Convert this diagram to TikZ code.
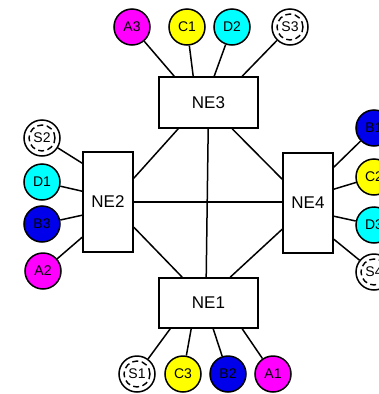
\documentclass[tikz,border=0pt]{standalone}
\usepackage{fontspec}
\setmainfont{Liberation Sans}
\usetikzlibrary{calc}

\definecolor{sitemagenta}{RGB}{255,0,255}
\definecolor{siteyellow}{RGB}{255,255,0}
\definecolor{sitecyan}{RGB}{0,255,255}
\definecolor{siteblue}{RGB}{0,0,235}

\tikzset{
  ne/.style={draw, fill=white, line width=1.6pt, inner sep=0pt, font=\fontsize{17}{17}\selectfont},
  site/.style={circle, draw, line width=1.5pt, minimum size=36pt, inner sep=0pt, font=\fontsize{14}{14}\selectfont},
  spare/.style={site, fill=white, path picture={
      \draw[dashed, dash pattern=on 6pt off 3.5pt, line width=1.4pt]
        (path picture bounding box.center) circle (13pt);}},
  link/.style={line width=1.5pt}
}

\begin{document}
\begin{tikzpicture}[x=1pt, y=-1pt]
  \clip (0,0) rectangle (379,394);

  % network elements
  \node[ne, minimum width=99pt, minimum height=51pt] (ne3) at (208.5,102.5) {NE3};
  \node[ne, minimum width=50pt, minimum height=100pt] (ne2) at (108,202) {NE2};
  \node[ne, minimum width=50pt, minimum height=100pt] (ne4) at (308,203) {NE4};
  \node[ne, minimum width=99pt, minimum height=50pt] (ne1) at (208.5,303) {NE1};

  % top
  \node[site, fill=sitemagenta] (a3) at (132,27) {A3};
  \node[site, fill=siteyellow]  (c1) at (187,27) {C1};
  \node[site, fill=sitecyan]    (d2) at (232,27) {D2};
  \node[spare]                  (s3) at (290,27) {S3};
  % left
  \node[spare]                  (s2) at (42,138) {S2};
  \node[site, fill=sitecyan]    (d1) at (42,182) {D1};
  \node[site, fill=siteblue]    (b3) at (42,224) {B3};
  \node[site, fill=sitemagenta] (a2) at (43,271) {A2};
  % right
  \node[site, fill=siteblue]    (b1) at (374,128) {B1};
  \node[site, fill=siteyellow]  (c2) at (374,177) {C2};
  \node[site, fill=sitecyan]    (d3) at (374,225) {D3};
  \node[spare]                  (s4) at (374,272) {S4};
  % bottom
  \node[spare]                  (s1) at (137,374) {S1};
  \node[site, fill=siteyellow]  (c3) at (183,374) {C3};
  \node[site, fill=siteblue]    (b2) at (228,374) {B2};
  \node[site, fill=sitemagenta] (a1) at (273,374) {A1};

  % access links
  \foreach \s/\d in {a3/16, c1/35, d2/56, s3/84}
    \draw[link] (\s) -- ($(ne3.north west)+(\d,0)$);
  \foreach \s/\d in {s2/12, d1/40, b3/64, a2/86}
    \draw[link] (\s) -- ($(ne2.north west)+(0,\d)$);
  \foreach \s/\d in {b1/15, c2/37, d3/64, s4/87}
    \draw[link] (\s) -- ($(ne4.north east)+(0,\d)$);
  \foreach \s/\d in {s1/12, c3/33, b2/55, a1/84}
    \draw[link] (\s) -- ($(ne1.south west)+(\d,0)$);

  % mesh between the NEs
  \draw[link] ($(ne3.south west)+(20,0)$) -- ($(ne2.north east)+(0,27)$);
  \draw[link] ($(ne3.south west)+(50,0)$) -- ($(ne1.north west)+(48,0)$);
  \draw[link] ($(ne3.south west)+(74,0)$) -- ($(ne4.north west)+(0,27)$);
  \draw[link] ($(ne2.north east)+(0,51)$) -- ($(ne4.north west)+(0,50)$);
  \draw[link] ($(ne2.north east)+(0,76)$) -- ($(ne1.north west)+(24,0)$);
  \draw[link] ($(ne4.north west)+(0,77)$) -- ($(ne1.north west)+(72,0)$);
\end{tikzpicture}
\end{document}
